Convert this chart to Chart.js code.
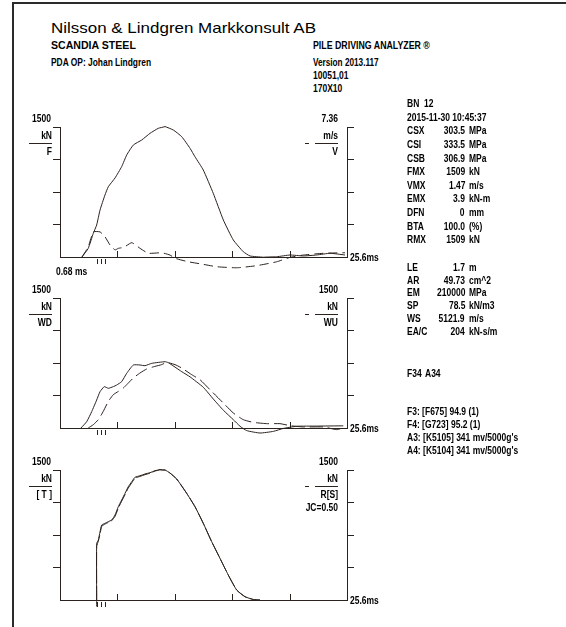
<!DOCTYPE html>
<html>
<head>
<meta charset="utf-8">
<script src="https://cdn.jsdelivr.net/npm/chart.js@4.4.1/dist/chart.umd.min.js"></script>
<style>
    body { margin: 0; background: #fff; width: 566px; height: 627px; position: relative; overflow: hidden;
           font-family: "Liberation Sans", Arial, sans-serif; color: #000; }
    #frameTop { position: absolute; left: 13px; top: 2px; width: 560px; height: 2px; background: #2a2a2a; }
    #frameLeft { position: absolute; left: 12px; top: 2px; width: 2px; height: 640px; background: #2a2a2a; }
    .t { position: absolute; white-space: nowrap; }
    canvas { position: absolute; left: 0; }
</style>
</head>
<body>
<div id="frameTop"></div>
<div id="frameLeft"></div>
<canvas id="c1" width="566" height="180" style="top:105px"></canvas>
<canvas id="c2" width="566" height="170" style="top:280px"></canvas>
<canvas id="c3" width="566" height="170" style="top:450px"></canvas>

<script>
// time axis (ms)
const timeMax = 25.6;
const timeTicks = [5.12, 10.24, 15.36, 20.48];
const markTimes = [3.30, 3.66, 4.02];

// panel 1: force F (kN) and velocity V (m/s)
const fTime = [1.96, 2.52, 2.97, 3.27, 3.57, 4.01, 4.31, 4.91, 5.50, 5.95, 6.54, 7.29, 8.03, 8.77, 9.37, 10.11, 10.86, 11.60, 12.04, 12.78, 13.67, 14.57, 15.46, 16.35, 16.95, 18.13, 19.33, 20.52, 21.70, 22.90, 24.08, 25.42];
const fForce = [0, 100, 273, 369, 542, 715, 811, 912, 1042, 1177, 1292, 1350, 1427, 1485, 1505, 1465, 1388, 1254, 1157, 1004, 735, 427, 196, 61, 12, -3, 3, 23, 12, 23, 43, 23];
const vTime = [1.96, 2.52, 2.97, 3.57, 4.01, 4.46, 4.91, 5.20, 5.70, 6.40, 7.14, 7.88, 9.07, 9.81, 10.26, 11.44, 12.64, 13.98, 15.76, 17.55, 19.33, 20.52, 21.70, 23.49, 25.42];
const vVel = [0, 0.57, 1.42, 1.42, 1.15, 0.68, 0.40, 0.49, 0.55, 0.81, 0.49, 0.21, 0.24, 0.11, -0.07, -0.27, -0.40, -0.55, -0.61, -0.49, -0.27, -0.02, 0.11, 0.21, 0.24];

// panel 2: wave down WD and wave up WU (kN)
const wdTime = [1.87, 2.38, 2.83, 3.27, 3.57, 3.95, 4.31, 4.75, 5.06, 5.50, 5.95, 6.54, 7.14, 7.58, 8.18, 9.37, 9.66, 10.86, 11.60, 12.78, 13.67, 14.57, 15.46, 16.06, 16.65, 17.84, 19.03, 19.92, 21.11, 22.90, 25.27];
const wdForce = [0, 73, 189, 323, 419, 477, 458, 477, 496, 535, 631, 727, 727, 719, 746, 765, 754, 650, 590, 470, 335, 205, 96, 20, -30, -58, -39, -5, 20, 22, 25];
const wuTime = [2.52, 2.97, 3.42, 3.86, 4.31, 4.75, 5.20, 5.65, 5.95, 6.54, 7.14, 7.73, 8.47, 9.07, 9.52, 10.26, 10.86, 11.75, 12.49, 13.38, 14.57, 15.46, 16.35, 17.24, 18.44, 19.62, 20.52, 21.70, 23.49, 24.68, 25.27];
const wuForce = [0, 38, 96, 192, 307, 384, 422, 461, 500, 577, 635, 681, 711, 731, 757, 731, 692, 615, 557, 442, 288, 173, 96, 65, 50, 50, 27, 12, 12, -19, 0];

// panel 3: total resistance [T] and static R[S] (kN)
const tTime = [3.27, 3.27, 3.42, 3.57, 3.72, 4.01, 4.31, 4.61, 4.91, 5.20, 5.50, 5.80, 6.09, 6.40, 6.69, 7.14, 7.58, 8.03, 8.47, 8.92, 9.37, 9.81, 10.41, 11.30, 12.04, 12.78, 13.53, 14.27, 15.01, 15.76, 16.50, 17.24, 17.84];
const tForce = [-75, 654, 692, 788, 865, 885, 904, 923, 981, 1077, 1154, 1231, 1307, 1365, 1416, 1434, 1454, 1469, 1492, 1505, 1500, 1465, 1396, 1231, 1077, 885, 673, 481, 288, 115, 38, 6, 0];
const rsForce = [0, 620, 680, 760, 850, 876, 895, 915, 965, 1060, 1140, 1215, 1292, 1352, 1405, 1426, 1446, 1463, 1488, 1504, 1500, 1465, 1396, 1231, 1077, 885, 673, 481, 288, 115, 38, 6, 0];

// info column
const infoLabels = ['CSX', 'CSI', 'CSB', 'FMX', 'VMX', 'EMX', 'DFN', 'BTA', 'RMX'];
const infoValues = ['303.5', '333.5', '306.9', '1509', '1.47', '3.9', '0', '100.0', '1509'];
const infoUnits = ['MPa', 'MPa', 'MPa', 'kN', 'm/s', 'kN-m', 'mm', '(%)', 'kN'];
const pileLabels = ['LE', 'AR', 'EM', 'SP', 'WS', 'EA/C'];
const pileValues = ['1.7', '49.73', '210000', '78.5', '5121.9', '204'];
const pileUnits = ['m', 'cm^2', 'MPa', 'kN/m3', 'm/s', 'kN-s/m'];
const gaugeLines = ['F3: [F675] 94.9 (1)', 'F4: [G723] 95.2 (1)', 'A3: [K5105] 341 mv/5000g\'s', 'A4: [K5104] 341 mv/5000g\'s'];

const LINE = '#2b221d';
const FONT = 'bold 10px "Liberation Sans", Arial, sans-serif';
const NARROW = 0.85;

function pts(xs, ys) {
    return xs.map((x, i) => ({ x: x, y: ys[i] }));
}

// html text, cy = vertical centre of capitals
function put(s, x, cy, size, bold, sx, align) {
    const d = document.createElement('div');
    d.className = 't';
    d.textContent = s;
    d.style.fontSize = size + 'px';
    d.style.lineHeight = size + 'px';
    d.style.fontWeight = bold ? 'bold' : 'normal';
    d.style.top = (cy - 0.49 * size) + 'px';
    if (align === 'right') {
        d.style.right = (566 - x) + 'px';
        d.style.transformOrigin = '100% 50%';
    } else {
        d.style.left = x + 'px';
        d.style.transformOrigin = '0 50%';
    }
    d.style.transform = 'scaleX(' + sx + ')';
    document.body.appendChild(d);
}

function txt(ctx, s, x, y, align) {
    ctx.save();
    ctx.translate(x, y);
    ctx.scale(NARROW, 1);
    ctx.font = FONT;
    ctx.textAlign = align;
    ctx.textBaseline = 'middle';
    ctx.fillText(s, 0, 0);
    ctx.restore();
}

function seg(ctx, x1, y1, x2, y2) {
    ctx.beginPath();
    ctx.moveTo(x1, y1);
    ctx.lineTo(x2, y2);
    ctx.stroke();
}

// labels, inner time ticks and trigger marks
const decor = {
    id: 'decor',
    afterDraw(chart, args, o) {
        const ctx = chart.ctx;
        const a = chart.chartArea;
        const x = chart.scales.x;
        ctx.save();
        ctx.strokeStyle = LINE;
        ctx.lineWidth = 1;
        timeTicks.forEach(t => {
            const px = Math.round(x.getPixelForValue(t)) + 0.5;
            seg(ctx, px, a.bottom, px, a.bottom - 6);
        });
        markTimes.forEach(t => {
            const px = Math.round(x.getPixelForValue(t)) + 0.5;
            seg(ctx, px, a.bottom + 2, px, a.bottom + 7);
        });
        const ly = Math.round(a.top + 15.5) + 0.5;
        seg(ctx, a.left - 31, ly, a.left - 8, ly);
        seg(ctx, a.right - 42, ly, a.right - 38, ly);
        seg(ctx, a.right - 32, ly, a.right - 9, ly);

        ctx.fillStyle = '#000';
        txt(ctx, o.leftTop, a.left - 9, a.top - 7.5, 'right');
        txt(ctx, o.leftUnit, a.left - 8, a.top + 9, 'right');
        txt(ctx, o.leftName, a.left - 8, a.top + 25.5, 'right');
        txt(ctx, o.rightTop, a.right - 9, a.top - 7.5, 'right');
        txt(ctx, o.rightUnit, a.right - 9, a.top + 9, 'right');
        txt(ctx, o.rightName, a.right - 9, a.top + 25.5, 'right');
        if (o.extra) txt(ctx, o.extra, a.right - 9, a.top + 38, 'right');
        txt(ctx, timeMax.toFixed(1) + 'ms', a.right + 3, a.bottom + 1, 'left');
        if (o.start) txt(ctx, o.start, a.left - 4, a.bottom + 15, 'left');
        ctx.restore();
    }
};

function yAxis(pos, max, ticks) {
    return {
        type: 'linear', position: pos, min: 0, max: max,
        afterBuildTicks: s => { s.ticks = ticks.map(v => ({ value: v })); },
        ticks: { display: false },
        grid: { drawOnChartArea: false, tickLength: 7, color: LINE, lineWidth: 1 },
        border: { color: LINE, width: 1 }
    };
}

function makeChart(id, datasets, rightMax, rightTicks, pad, labels) {
    const kTicks = [375, 750, 1125, 1500];
    return new Chart(document.getElementById(id), {
        type: 'line',
        data: { datasets: datasets },
        options: {
            responsive: false,
            animation: false,
            events: [],
            layout: { padding: { left: 53, right: 212, top: pad[0], bottom: pad[1] } },
            elements: { point: { radius: 0 }, line: { borderWidth: 1, tension: 0.15 } },
            scales: {
                x: {
                    type: 'linear', min: 0, max: timeMax,
                    ticks: { display: false },
                    grid: { drawOnChartArea: false, drawTicks: false },
                    border: { color: LINE, width: 1 }
                },
                y: yAxis('left', 1500, kTicks),
                y2: yAxis('right', rightMax, rightTicks)
            },
            plugins: { legend: { display: false }, tooltip: { enabled: false }, decor: labels }
        },
        plugins: [decor]
    });
}

function ds(data, axis, dash) {
    return {
        data: data, yAxisID: axis, borderColor: LINE, borderWidth: 1,
        borderDash: dash || [], fill: false, clip: false, parsing: false
    };
}

makeChart('c1', [
    ds(pts(fTime, fForce), 'y'),
    ds(pts(vTime, vVel), 'y2', [9, 5])
], 7.36, [1.84, 3.68, 5.52, 7.36], [22, 28],
    { leftTop: '1500', leftUnit: 'kN', leftName: 'F', rightTop: '7.36', rightUnit: 'm/s', rightName: 'V', start: '0.68 ms' });

makeChart('c2', [
    ds(pts(wdTime, wdForce), 'y'),
    ds(pts(wuTime, wuForce), 'y2', [13, 5])
], 1500, [375, 750, 1125, 1500], [18, 22],
    { leftTop: '1500', leftUnit: 'kN', leftName: 'WD', rightTop: '1500', rightUnit: 'kN', rightName: 'WU' });

makeChart('c3', [
    ds(pts(tTime, tForce), 'y'),
    ds(pts(tTime, rsForce), 'y2', [14, 3])
], 1500, [375, 750, 1125, 1500], [20, 20],
    { leftTop: '1500', leftUnit: 'kN', leftName: '[ T ]', rightTop: '1500', rightUnit: 'kN', rightName: 'R[S]', extra: 'JC=0.50' });

// header
put('Nilsson & Lindgren Markkonsult AB', 51, 28.5, 14.5, false, 1.17);
put('SCANDIA STEEL', 51, 46, 11.5, true, 0.92);
put('PDA OP: Johan Lindgren', 51, 62.5, 10, true, 0.84);
put('PILE DRIVING ANALYZER \u00AE', 313, 46, 10, true, 0.88);
put('Version 2013.117', 313, 62.5, 10, true, 0.82);
put('10051,01', 313, 75.5, 10, true, 0.85);
put('170X10', 313, 88.5, 10, true, 0.85);

// info column
const ix = 407, vx = 465, ux = 469;
const topStep = 13.6, step = 12.8;
put('BN', ix, 104, 10, true, NARROW);
put('12', 424, 104, 10, true, NARROW);
put('2015-11-30  10:45:37', ix, 104 + topStep, 10, true, NARROW);
infoLabels.forEach((s, i) => {
    const cy = 104 + topStep * (i + 2);
    put(s, ix, cy, 10, true, NARROW);
    put(infoValues[i], vx, cy, 10, true, NARROW, 'right');
    put(infoUnits[i], ux, cy, 10, true, NARROW);
});
pileLabels.forEach((s, i) => {
    const cy = 267.6 + step * i;
    put(s, ix, cy, 10, true, NARROW);
    put(pileValues[i], vx, cy, 10, true, NARROW, 'right');
    put(pileUnits[i], ux, cy, 10, true, NARROW);
});
put('F34', ix, 374, 10, true, NARROW);
put('A34', 425, 374, 10, true, NARROW);
gaugeLines.forEach((s, i) => put(s, ix, 412.3 + step * i, 10, true, NARROW));
</script>
</body>
</html>
